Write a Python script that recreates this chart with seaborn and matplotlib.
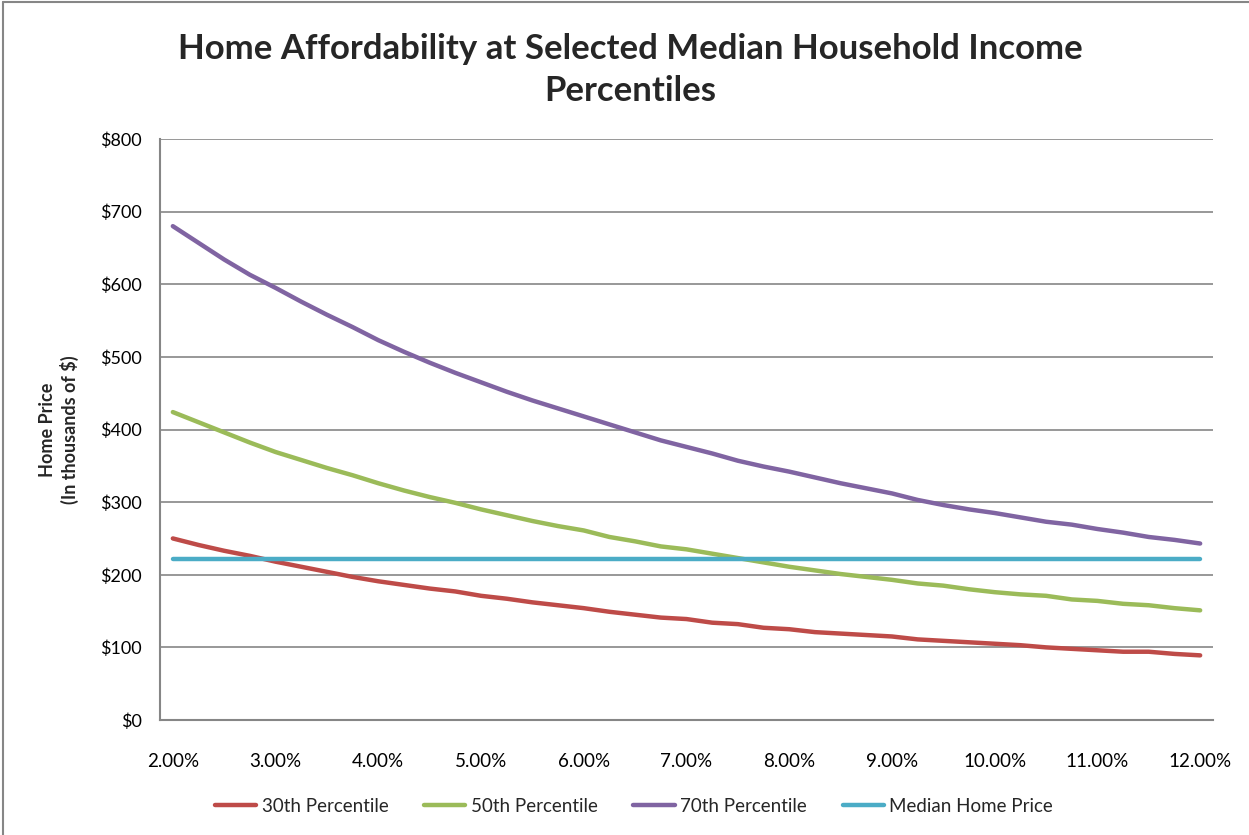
import matplotlib
matplotlib.use("Agg")
import matplotlib.pyplot as plt
from matplotlib.lines import Line2D
from matplotlib.ticker import FixedLocator, FuncFormatter
import seaborn as sns
import pandas as pd

# ---- data ----
rates = [2.00, 2.25, 2.50, 2.75, 3.00, 3.25, 3.50, 3.75, 4.00, 4.25, 4.50, 4.75,
         5.00, 5.25, 5.50, 5.75, 6.00, 6.25, 6.50, 6.75, 7.00, 7.25, 7.50, 7.75,
         8.00, 8.25, 8.50, 8.75, 9.00, 9.25, 9.50, 9.75, 10.00, 10.25, 10.50, 10.75,
         11.00, 11.25, 11.50, 11.75, 12.00]
p30 = [250, 241, 233, 226, 218, 211, 204, 197, 191, 186, 181, 177,
       171, 167, 162, 158, 154, 149, 145, 141, 139, 134, 132, 127,
       125, 121, 119, 117, 115, 111, 109, 107, 105, 103, 100, 98,
       96, 94, 94, 91, 89]
p50 = [424, 410, 396, 382, 369, 358, 347, 337, 326, 316, 307, 299,
       290, 282, 274, 267, 261, 252, 246, 239, 235, 229, 223, 217,
       211, 206, 201, 197, 193, 188, 185, 180, 176, 173, 171, 166,
       164, 160, 158, 154, 151]
p70 = [680, 657, 634, 613, 595, 576, 558, 541, 523, 507, 492, 478,
       465, 452, 440, 429, 418, 407, 396, 385, 376, 367, 357, 349,
       342, 334, 326, 319, 312, 303, 296, 290, 285, 279, 273, 269,
       263, 258, 252, 248, 243]
median_price = [222] * len(rates)

series_names = ["30th Percentile", "50th Percentile", "70th Percentile", "Median Home Price"]
series_colors = ["#BE4B48", "#9BBB59", "#8064A2", "#4BACC6"]
y_ticks = [0, 100, 200, 300, 400, 500, 600, 700, 800]
title = "Home Affordability at Selected Median Household Income\nPercentiles"
ylabel = "Home Price\n(In thousands of $)"

frames = []
for name, vals in zip(series_names, [p30, p50, p70, median_price]):
    frames.append(pd.DataFrame({"rate": rates, "price": vals, "series": name}))
df = pd.concat(frames, ignore_index=True)

# ---- figure ----
sns.set_style("white")
plt.rcParams["font.family"] = ["Lato", "DejaVu Sans"]

fig = plt.figure(figsize=(12.49, 8.35), dpi=100)
ax = fig.add_axes([160 / 1249, 1 - 720 / 835, (1213 - 160) / 1249, (720 - 139) / 835])

grid_c = "#868686"
for v in y_ticks[1:]:
    ax.axhline(v, color=grid_c, lw=1.2, zorder=0)

sns.lineplot(data=df, x="rate", y="price", hue="series", hue_order=series_names,
             palette=dict(zip(series_names, series_colors)), lw=3.2, ax=ax,
             legend=False, solid_capstyle="round", sort=False)

step = rates[1] - rates[0]
ax.set_xlim(rates[0] - step / 2, rates[-1] + step / 2)
ax.set_ylim(y_ticks[0], y_ticks[-1])

# y axis
ax.set_yticks(y_ticks)
ax.set_yticklabels([f"${v}" for v in y_ticks])
ax.tick_params(axis="y", length=0, pad=13, labelsize=13, colors="black")

# x axis: major ticks at category boundaries, minor at centers carrying labels
bounds = [r - step / 2 for r in rates] + [rates[-1] + step / 2]
ax.xaxis.set_major_locator(FixedLocator(bounds))
ax.xaxis.set_major_formatter(FuncFormatter(lambda v, p: ""))
ax.xaxis.set_minor_locator(FixedLocator(rates))
ax.xaxis.set_minor_formatter(FuncFormatter(
    lambda v, p: f"{v:.2f}%" if abs(v - round(v)) < 1e-6 else ""))
ax.tick_params(axis="x", which="major", direction="inout", length=12, width=1.2, color=grid_c)
ax.tick_params(axis="x", which="minor", direction="in", length=4, width=1.2, color=grid_c,
               pad=24, labelsize=13.5, labelcolor="black")

for s in ["top", "right"]:
    ax.spines[s].set_visible(False)
for s in ["left", "bottom"]:
    ax.spines[s].set_color(grid_c)
    ax.spines[s].set_linewidth(1.5)

ax.set_xlabel("")
ax.set_ylabel(ylabel, fontsize=13, fontweight="bold", labelpad=15, linespacing=1.3)

fig.text(630 / 1249, 1 - 70 / 835, title, ha="center", va="center",
         fontsize=25, fontweight="bold", linespacing=1.35)

handles = [Line2D([0], [0], color=c, lw=3.2) for c in series_colors]
fig.legend(handles, series_names, loc="center", bbox_to_anchor=(634 / 1249, 1 - 806 / 835),
           ncol=4, frameon=False, fontsize=13.5, handlelength=2.2, handletextpad=0.3,
           columnspacing=1.9)

# chart area border
fig.add_artist(Line2D([3 / 1249, 1.0], [1 - 1.5 / 835, 1 - 1.5 / 835], color=grid_c, lw=1.5,
                      transform=fig.transFigure))
fig.add_artist(Line2D([3 / 1249, 3 / 1249], [0.0, 1 - 1.5 / 835], color=grid_c, lw=1.5,
                      transform=fig.transFigure))

fig.savefig("out.png", dpi=100)
